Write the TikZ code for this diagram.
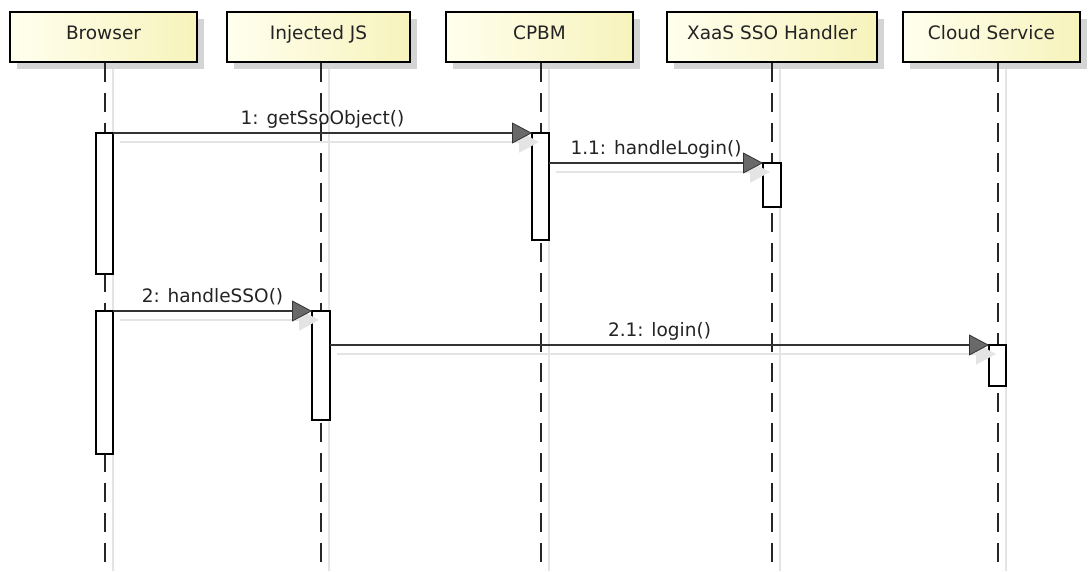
\documentclass[tikz,border=0pt]{standalone}
\usepackage{fontspec}
\setmainfont{DejaVu Sans}
\usetikzlibrary{arrows.meta}
\definecolor{boxL}{RGB}{255,255,238}
\definecolor{boxR}{RGB}{247,243,188}
\definecolor{shad}{RGB}{212,212,212}
\definecolor{lshad}{RGB}{228,228,228}
\definecolor{txt}{RGB}{35,35,35}
\definecolor{headfill}{RGB}{105,105,105}
\begin{document}
\begin{tikzpicture}[x=1pt,y=-1pt,
  hdr/.style={draw=black,line width=2.4pt,left color=boxL,right color=boxR,
    minimum height=50pt,inner sep=0pt,outer sep=0pt,text=txt,
    text height=12pt,text depth=8pt,
    font=\fontsize{18.5}{20}\selectfont},
  hdrshadow/.style={fill=shad,draw=none,minimum height=50pt,inner sep=0pt},
  lifeline/.style={draw=black!85,line width=1.7pt,dash pattern=on 19pt off 11pt},
  lifeshadow/.style={draw=lshad,line width=1.5pt},
  act/.style={draw=black,fill=white,line width=1.3pt,inner sep=0pt,outer sep=0pt},
  msg/.style={draw=black!80,line width=1.4pt,
    -{Triangle[length=20pt,width=21pt,fill=headfill,color=black!80,line width=0.8pt]}},
  msgshadow/.style={draw=lshad,line width=2pt,
    -{Triangle[length=20pt,width=21pt,fill=lshad,color=lshad]}},
  lbl/.style={text=txt,font=\fontsize{18.5}{20}\selectfont,inner sep=0pt,
    text height=14pt,text depth=4pt,above=4pt}
]
\useasboundingbox (0,0) rectangle (1090,571);
\fill[white] (0,0) rectangle (1090,571);

% header shadows
\foreach \cx/\w in {103.5/187,318.5/183,539.5/187,772/210,991.5/177}
  \node[hdrshadow,minimum width=\w pt] at (\cx+7,44) {};

% lifeline shadows and lifelines
\foreach \lx in {105,321,541,772,998}{
  \draw[lifeshadow] (\lx+8,69) -- (\lx+8,571);
  \draw[lifeline] (\lx,63) -- (\lx,571);
}

% headers
\node[hdr,minimum width=187pt] (browser) at (103.5,37) {Browser};
\node[hdr,minimum width=183pt] (injected) at (318.5,37) {Injected JS};
\node[hdr,minimum width=187pt] (cpbm) at (539.5,37) {CPBM};
\node[hdr,minimum width=210pt] (xaas) at (772,37) {XaaS SSO Handler};
\node[hdr,minimum width=177pt] (cloud) at (991.5,37) {Cloud Service};

% activations
\node[act,minimum width=17pt,minimum height=141pt] (aB1) at (104.5,203.5) {};
\node[act,minimum width=17pt,minimum height=107pt] (aC1) at (540.5,186.5) {};
\node[act,minimum width=18pt,minimum height=44pt] (aX1) at (772,185) {};
\node[act,minimum width=17pt,minimum height=143pt] (aB2) at (104.5,382.5) {};
\node[act,minimum width=18pt,minimum height=109pt] (aJ2) at (321,365.5) {};
\node[act,minimum width=17pt,minimum height=41pt] (aS2) at (997.5,365.5) {};

% message shadows
\draw[msgshadow] ([shift={(7,9)}]aB1.north east) -- ([shift={(7,9)}]aC1.north west);
\draw[msgshadow] ([shift={(7,9)}]aC1.east |- aX1.north) -- ([shift={(7,9)}]aX1.north west);
\draw[msgshadow] ([shift={(7,9)}]aB2.north east) -- ([shift={(7,9)}]aJ2.north west);
\draw[msgshadow] ([shift={(7,9)}]aJ2.east |- aS2.north) -- ([shift={(7,9)}]aS2.north west);

% messages
\draw[msg] (aB1.north east) -- node[lbl] (l1) {1: getSsoObject()} (aC1.north west);
\draw[msg] (aC1.east |- aX1.north) -- node[lbl] (l11) {1.1: handleLogin()} (aX1.north west);
\draw[msg] (aB2.north east) -- node[lbl] (l2) {2: handleSSO()} (aJ2.north west);
\draw[msg] (aJ2.east |- aS2.north) -- node[lbl] (l21) {2.1: login()} (aS2.north west);
\end{tikzpicture}
\end{document}
